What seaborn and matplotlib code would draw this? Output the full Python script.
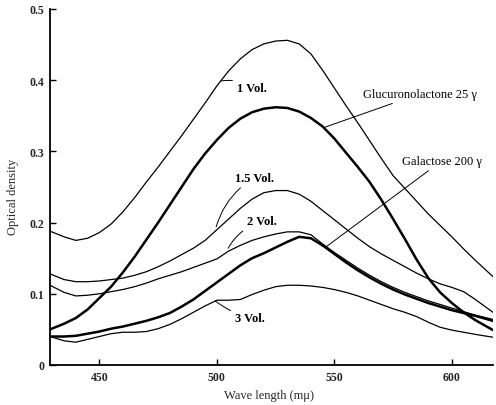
import numpy as np
import pandas as pd
import matplotlib
matplotlib.use("Agg")
import matplotlib.pyplot as plt
import seaborn as sns

# wave lengths (m-mu) shared by all curves
wl = [429, 435, 440, 445, 450, 455, 460, 465, 470, 475, 480, 485, 490, 495,
      500, 505, 510, 515, 520, 525, 530, 535, 540, 545, 550, 555, 560, 565,
      570, 575, 580, 585, 590, 595, 600, 605, 610, 617.5]

vol_1 = [0.188, 0.180, 0.175, 0.178, 0.186, 0.198, 0.215, 0.235, 0.257, 0.278,
         0.300, 0.322, 0.345, 0.368, 0.392, 0.413, 0.430, 0.443, 0.451, 0.455,
         0.456, 0.451, 0.437, 0.414, 0.389, 0.364, 0.340, 0.315, 0.290, 0.266,
         0.248, 0.230, 0.212, 0.196, 0.180, 0.163, 0.147, 0.124]

glucuronolactone = [0.050, 0.058, 0.066, 0.078, 0.094, 0.110, 0.130, 0.152, 0.176, 0.200,
                    0.225, 0.250, 0.275, 0.297, 0.316, 0.333, 0.346, 0.355, 0.360, 0.362,
                    0.361, 0.356, 0.347, 0.335, 0.318, 0.298, 0.278, 0.257, 0.232, 0.205,
                    0.177, 0.148, 0.122, 0.102, 0.087, 0.074, 0.063, 0.049]

vol_15 = [0.128, 0.120, 0.117, 0.117, 0.118, 0.120, 0.122, 0.126, 0.131, 0.138,
          0.146, 0.155, 0.164, 0.175, 0.190, 0.205, 0.220, 0.233, 0.242, 0.245,
          0.245, 0.240, 0.230, 0.217, 0.204, 0.191, 0.178, 0.166, 0.156, 0.147,
          0.138, 0.129, 0.121, 0.114, 0.109, 0.103, 0.092, 0.074]

vol_2 = [0.112, 0.102, 0.097, 0.098, 0.100, 0.103, 0.106, 0.110, 0.115, 0.121,
         0.126, 0.131, 0.137, 0.143, 0.149, 0.160, 0.168, 0.175, 0.180, 0.184,
         0.187, 0.187, 0.183, 0.170, 0.158, 0.147, 0.136, 0.126, 0.117, 0.109,
         0.102, 0.096, 0.090, 0.085, 0.080, 0.075, 0.070, 0.064]

galactose = [0.040, 0.040, 0.041, 0.044, 0.047, 0.051, 0.054, 0.058, 0.062, 0.067,
             0.073, 0.082, 0.092, 0.104, 0.116, 0.128, 0.140, 0.150, 0.157, 0.165,
             0.173, 0.180, 0.178, 0.168, 0.156, 0.144, 0.133, 0.123, 0.114, 0.106,
             0.099, 0.093, 0.087, 0.082, 0.077, 0.073, 0.069, 0.062]

vol_3 = [0.040, 0.034, 0.032, 0.036, 0.040, 0.044, 0.046, 0.046, 0.047, 0.051,
         0.057, 0.065, 0.074, 0.083, 0.091, 0.091, 0.092, 0.099, 0.105, 0.110,
         0.112, 0.112, 0.111, 0.109, 0.106, 0.102, 0.097, 0.091, 0.085, 0.079,
         0.074, 0.068, 0.060, 0.053, 0.049, 0.046, 0.043, 0.039]

x_ticks = [450, 500, 550, 600]
y_ticks = [0, 0.1, 0.2, 0.3, 0.4, 0.5]
y_tick_labels = ["0", "0.1", "0.2", "0.3", "0.4", "0.5"]

sns.set_theme(style="ticks")
plt.rcParams["font.family"] = ["Liberation Serif", "DejaVu Serif"]

fig = plt.figure(figsize=(4.96, 4.06), dpi=100)
ax = fig.add_axes([50 / 496, 40 / 406, 443 / 496, 356 / 406])

series = [
    (vol_1, 0.9), (glucuronolactone, 1.8), (vol_15, 0.9),
    (vol_2, 0.9), (galactose, 1.8), (vol_3, 0.9),
]
for vals, lw in series:
    sns.lineplot(x=wl, y=vals, ax=ax, color="black", linewidth=lw, sort=False,
                 solid_joinstyle="round")

ax.set_xlim(429, 617.5)
ax.set_ylim(0, 0.5)
ax.set_xticks(x_ticks)
ax.set_xticklabels([str(t) for t in x_ticks], fontsize=8.5, fontweight="bold")
ax.set_yticks(y_ticks)
ax.set_yticklabels(y_tick_labels, fontsize=8.5, fontweight="bold")
ax.tick_params(direction="in", length=4, width=1, color="black", pad=4)
sns.despine(ax=ax)
for s in ["left", "bottom"]:
    ax.spines[s].set_linewidth(1.3)
    ax.spines[s].set_color("black")

ax.set_xlabel("Wave length (mμ)", fontsize=9)
ax.set_ylabel("Optical density", fontsize=9)
ax.xaxis.set_label_coords(0.494, -0.068)
ax.yaxis.set_label_coords(-0.07, 0.475)

labels = [
    ("1 Vol.", (501.8, 0.399), (508.6, 0.389), "bold", 0.2),
    ("1.5 Vol.", (499.7, 0.194), (507.8, 0.263), "bold", 0.2),
    ("2 Vol.", (504.8, 0.164), (512.9, 0.202), "bold", 0.2),
    ("3 Vol.", (499.3, 0.090), (507.8, 0.066), "bold", -0.1),
    ("Glucuronolactone 25 γ", (546.0, 0.334), (562.2, 0.381), "normal", 0.0),
    ("Galactose 200 γ", (546.5, 0.166), (578.8, 0.287), "normal", 0.0),
]
for txt, xy, xyt, wt, rad in labels:
    ax.annotate(txt, xy=xy, xytext=xyt, fontsize=9, fontweight=wt,
                ha="left", va="center", color="black",
                arrowprops=dict(arrowstyle="-", lw=0.7, color="black",
                                shrinkA=1, shrinkB=0,
                                connectionstyle=f"arc3,rad={rad}"))

fig.savefig("out.png", dpi=100)
